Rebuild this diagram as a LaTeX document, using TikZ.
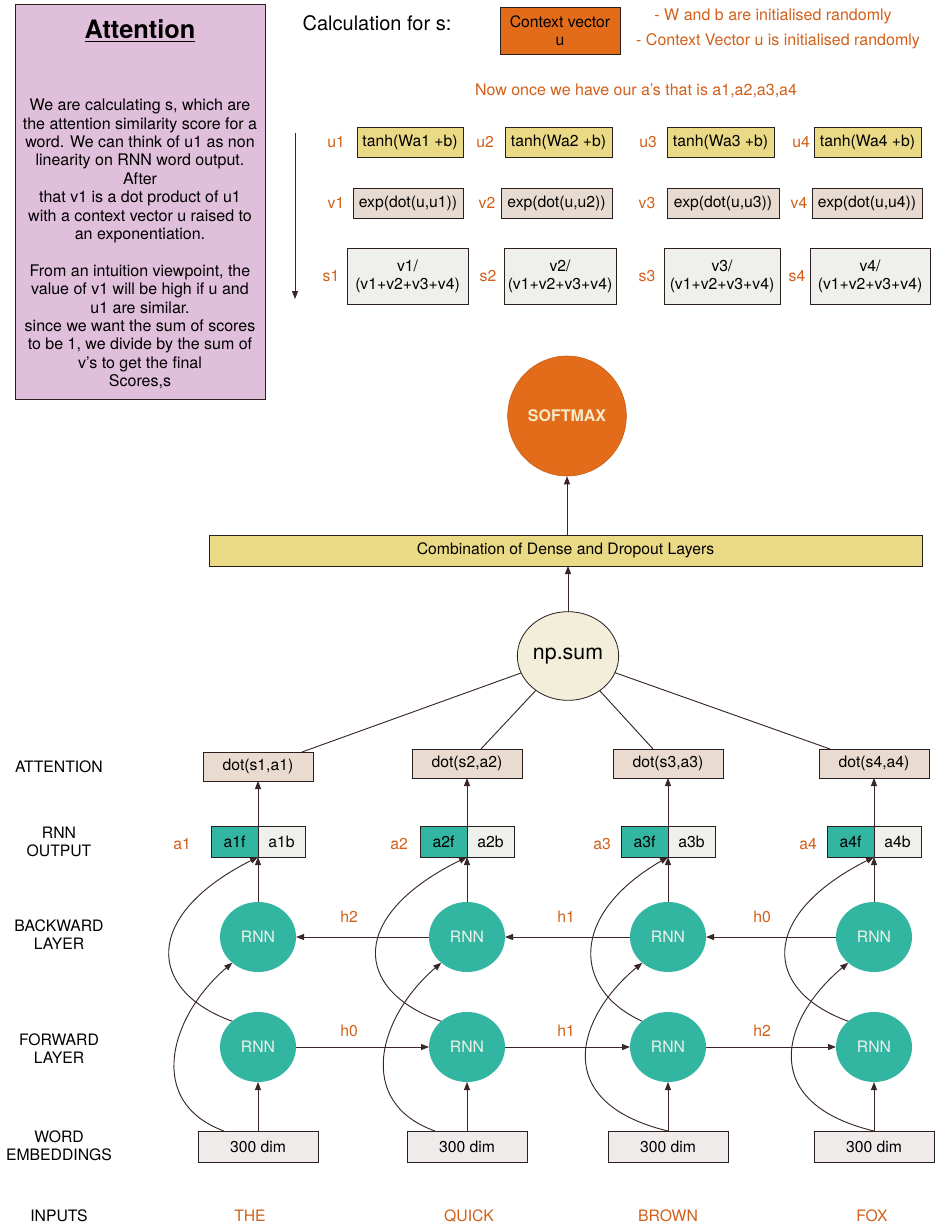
\documentclass[tikz,border=0pt]{standalone}
\usepackage{fontspec}
\setmainfont{TeX Gyre Heros}
\usetikzlibrary{arrows.meta,shapes.geometric,calc}

\definecolor{pinkbox}{HTML}{E0BFDB}
\definecolor{orng}{HTML}{E36C1B}
\definecolor{orngtxt}{HTML}{D2601A}
\definecolor{ylw}{HTML}{EAD985}
\definecolor{rnnteal}{HTML}{33B6A1}
\definecolor{lgray}{HTML}{EFEFEB}
\definecolor{dotfill}{HTML}{E9DBCF}
\definecolor{expfill}{HTML}{E7DAD0}
\definecolor{npfill}{HTML}{F2EEDA}
\definecolor{embfill}{HTML}{EEEBEA}
\definecolor{linecol}{HTML}{3A2626}
\definecolor{bordercol}{HTML}{2A1E1E}
\definecolor{rnntxt}{HTML}{EEF2EA}
\definecolor{smtxt}{HTML}{F6EBC8}

\newcommand\fnorm{\fontsize{11.8}{13.6}\selectfont}
\newcommand\fnote{\fontsize{12}{14}\selectfont}
\newcommand\mybox[7]{\node[#1, minimum width={((#5)-(#3))*0.75pt}, minimum height={((#6)-(#4))*0.75pt}] (#2) at ({((#3)+(#5))/2},{((#4)+(#6))/2}) {#7};}

\tikzset{
  bx/.style={draw=bordercol, line width=0.6pt, inner sep=0pt, outer sep=0pt, align=center, font=\fnorm, text=black},
  arr/.style={draw=linecol, line width=0.7pt, -{Triangle[length=6pt,width=4.5pt]}},
  ln/.style={draw=linecol, line width=0.7pt},
  lab/.style={font=\fnorm, text=orngtxt, inner sep=0pt},
  side/.style={font=\fnorm, text=black, align=center, inner sep=0pt},
  rnn/.style={ellipse, fill=rnnteal, minimum width=57pt, minimum height=52.5pt, inner sep=0pt, outer sep=0pt, text=rnntxt, font=\fnorm},
}

\begin{document}
\begin{tikzpicture}[x=0.75pt,y=-0.75pt]
\useasboundingbox (0,0) rectangle (936,1231);
\fill[white] (0,0) rectangle (936,1231);

% ---------- left explanation box
\mybox{bx, fill=pinkbox}{attnbox}{15}{4}{265}{399}{}
\node[font=\fontsize{19}{22}\selectfont\bfseries, inner sep=0pt] (attntitle) at (140,31) {\underline{Attention}};
\node[font=\fontsize{12}{13.8}\selectfont, align=center, inner sep=0pt] (attnbody) at (140,244) {We are calculating s, which are\\the attention similarity score for a\\word. We can think of u1 as non\\linearity on RNN word output.\\After\\that v1 is a dot product of u1\\with a context vector u raised to\\an exponentiation.\\[13.8pt]From an intuition viewpoint, the\\value of v1 will be high if u and\\u1 are similar.\\since we want the sum of scores\\to be 1, we divide by the sum of\\v’s to get the final\\Scores,s};

\coordinate (flowtop) at (295,133);
\coordinate (flowbot) at (295,299);
\draw[arr] (flowtop) -- (flowbot);

% ---------- top notes
\node[font=\fontsize{15}{18}\selectfont, inner sep=0pt] (calc) at (377,23) {Calculation for s:};
\mybox{bx, fill=orng}{ctx}{500}{7}{620}{54}{Context vector\\u}
\node[font=\fnote, text=orngtxt, inner sep=0pt] (note1) at (773,16) {- W and b are initialised randomly};
\node[font=\fnote, text=orngtxt, inner sep=0pt] (note2) at (778,41) {- Context Vector u is initialised randomly};
\node[font=\fnote, text=orngtxt, inner sep=0pt] (note3) at (636,91) {Now once we have our a's that is a1,a2,a3,a4};

% ---------- u row
\mybox{bx, fill=ylw}{u1}{357}{127}{463}{157}{tanh(Wa1 +b)}
\mybox{bx, fill=ylw}{u2}{505}{127}{612}{157}{tanh(Wa2 +b)}
\mybox{bx, fill=ylw}{u3}{667}{127}{774}{157}{tanh(Wa3 +b)}
\mybox{bx, fill=ylw}{u4}{814}{127}{921}{157}{tanh(Wa4 +b)}
\node[lab] (lu1) at (336,142) {u1};
\node[lab] (lu2) at (485,142) {u2};
\node[lab] (lu3) at (648,142) {u3};
\node[lab] (lu4) at (801,142) {u4};

% ---------- v row
\mybox{bx, fill=expfill}{v1}{353}{188}{463}{218}{exp(dot(u,u1))}
\mybox{bx, fill=expfill}{v2}{501}{188}{612}{218}{exp(dot(u,u2))}
\mybox{bx, fill=expfill}{v3}{667}{188}{779}{218}{exp(dot(u,u3))}
\mybox{bx, fill=expfill}{v4}{812}{188}{922}{218}{exp(dot(u,u4))}
\node[lab] (lv1) at (336,203) {v1};
\node[lab] (lv2) at (487,203) {v2};
\node[lab] (lv3) at (647,203) {v3};
\node[lab] (lv4) at (799,203) {v4};

% ---------- s row
\mybox{bx, fill=lgray}{s1}{347}{248}{468}{304}{v1/\\(v1+v2+v3+v4)}
\mybox{bx, fill=lgray}{s2}{504}{248}{616}{304}{v2/\\(v1+v2+v3+v4)}
\mybox{bx, fill=lgray}{s3}{664}{248}{780}{304}{v3/\\(v1+v2+v3+v4)}
\mybox{bx, fill=lgray}{s4}{810}{248}{930}{304}{v4/\\(v1+v2+v3+v4)}
\node[lab] (ls1) at (331,276) {s1};
\node[lab] (ls2) at (488,276) {s2};
\node[lab] (ls3) at (647,276) {s3};
\node[lab] (ls4) at (797,276) {s4};

% ---------- softmax / dense / sum
\node[ellipse, fill=orng, draw=orng!85!black, line width=0.4pt, minimum width=89pt, minimum height=90pt, inner sep=0pt, text=smtxt, font=\fontsize{12}{14}\selectfont\bfseries] (sm) at (567,416) {SOFTMAX};
\mybox{bx, fill=ylw}{comb}{209}{535}{922}{566}{Combination of Dense and Dropout Layers}
\node[ellipse, fill=npfill, draw=bordercol, line width=0.6pt, minimum width=76pt, minimum height=66.5pt, inner sep=0pt, outer sep=0pt, font=\fontsize{16}{18}\selectfont] (np) at (568,656) {np.sum};
\draw[arr] (np.north) -- (np.north |- comb.south);
\draw[arr] (comb.north -| sm.south) -- (sm.south);

% ---------- columns
\foreach \i/\xc/\ya/\yb/\fr/\lx/\sa/\pa/\pb/\qa/\qb in {%
  1/258/752/781/0.9/182/-34/-113/-88/-112/-115,
  2/467/749/778/0.627/399/-32/-113/-88/-115/-118,
  3/668/749/778/0.364/602/0/-120/-90/-95/-100,
  4/874/749/778/0.1/808/0/-120/-90/-112/-115}{
  \mybox{bx, fill=dotfill}{d\i}{\xc-55}{\ya}{\xc+55}{\yb}{dot(s\i,a\i)}
  \mybox{bx, fill=rnnteal}{af\i}{\xc-47}{826}{\xc}{857}{a\i f}
  \mybox{bx, fill=lgray}{ab\i}{\xc}{826}{\xc+47}{857}{a\i b}
  \node[lab] (la\i) at (\lx,844) {a\i};
  \node[rnn] (bk\i) at (\xc,937) {RNN};
  \node[rnn] (fw\i) at (\xc,1047) {RNN};
  \mybox{bx, fill=embfill}{e\i}{\xc-60}{1131}{\xc+60}{1162}{300 dim}
  \draw[arr] (e\i.north) -- (fw\i.south);
  \draw[arr] (bk\i.north) -- (af\i.south east);
  \draw[arr] (af\i.north east) -- (d\i.south);
  \draw[ln] (np) -- ($(d\i.north west)!\fr!(d\i.north east)$);
  \draw[arr] ($(e\i.north)+(\sa,0)$) .. controls ({\xc+\pa},1102) and ({\xc+\pb},1016) .. (bk\i.225);
  \draw[arr] (fw\i.135) .. controls ({\xc+\qa},990) and ({\xc+\qb},915) .. (af\i.south east);
}

% ---------- recurrent connections
\draw[arr] (bk4) -- (bk3);
\draw[arr] (bk3) -- (bk2);
\draw[arr] (bk2) -- (bk1);
\draw[arr] (fw1) -- (fw2);
\draw[arr] (fw2) -- (fw3);
\draw[arr] (fw3) -- (fw4);
\node[lab] (hb2) at (349,917) {h2};
\node[lab] (hb1) at (566,917) {h1};
\node[lab] (hb0) at (762,917) {h0};
\node[lab] (hf0) at (349,1031) {h0};
\node[lab] (hf1) at (566,1031) {h1};
\node[lab] (hf2) at (762,1031) {h2};

% ---------- side labels
\node[side] (latt) at (59,767) {ATTENTION};
\node[side] (lout) at (59,842) {RNN\\OUTPUT};
\node[side] (lbk) at (59,935) {BACKWARD\\LAYER};
\node[side] (lfw) at (59,1049) {FORWARD\\LAYER};
\node[side] (lemb) at (59,1146) {WORD\\EMBEDDINGS};
\node[side] (linp) at (59,1216) {INPUTS};

% ---------- inputs
\node[lab] (w1) at (250,1216) {THE};
\node[lab] (w2) at (469,1216) {QUICK};
\node[lab] (w3) at (668,1216) {BROWN};
\node[lab] (w4) at (872,1216) {FOX};
\end{tikzpicture}
\end{document}
